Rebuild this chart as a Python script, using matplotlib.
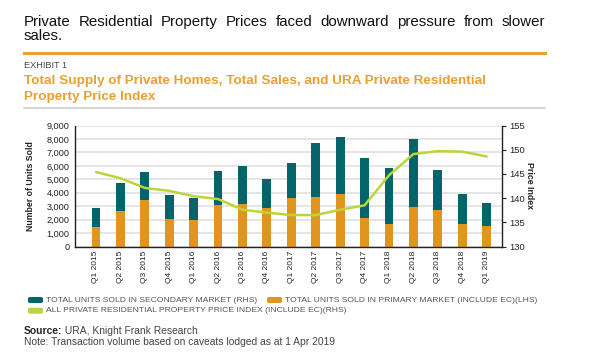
import matplotlib
matplotlib.use("Agg")
import matplotlib.pyplot as plt
from matplotlib.patches import FancyBboxPatch
from matplotlib.lines import Line2D
import numpy as np

plt.rcParams["font.family"] = ["Liberation Sans", "DejaVu Sans"]

quarters = ["Q1 2015", "Q2 2015", "Q3 2015", "Q4 2015", "Q1 2016", "Q2 2016",
            "Q3 2016", "Q4 2016", "Q1 2017", "Q2 2017", "Q3 2017", "Q4 2017",
            "Q1 2018", "Q2 2018", "Q3 2018", "Q4 2018", "Q1 2019"]
primary = [1450, 2640, 3490, 2040, 1970, 3070, 3170, 2870, 3620, 3690,
           3940, 2120, 1670, 2940, 2740, 1670, 1520]
secondary = [1450, 2120, 2020, 1800, 1650, 2520, 2790, 2170, 2560, 3990,
             4190, 4490, 4190, 5090, 2970, 2250, 1720]
price_index = [145.4, 144.1, 142.1, 141.5, 140.4, 139.8, 137.6, 137.0, 136.5,
               136.5, 137.6, 138.5, 144.7, 149.1, 149.7, 149.6, 148.6]

TEAL, ORANGE, LIME = "#03656a", "#e0961e", "#bcd43c"
HDR_ORANGE = "#e8a030"
W, H = 600, 360

fig = plt.figure(figsize=(6, 3.6), dpi=100)


def fx(px):
    return px / W


def fy(py):
    return 1 - py / H


def justified(text, x0, x1, y, **kw):
    # lay words out so the line fills x0..x1, like the justified source paragraph
    words = text.split()
    arts = [fig.text(0, fy(y), w, va="baseline", **kw) for w in words]
    r = fig.canvas.get_renderer()
    widths = [a.get_window_extent(r).width for a in arts]
    gap = (x1 - x0 - sum(widths)) / (len(words) - 1)
    pos = x0
    for a, w in zip(arts, widths):
        a.set_x(fx(pos))
        pos += w + gap


# header
justified("Private Residential Property Prices faced downward pressure from slower",
          24, 545, 26, fontsize=10.8, color="#111")
fig.text(fx(24), fy(40), "sales.", fontsize=10.8, color="#111", va="baseline")
fig.add_artist(Line2D([fx(24), fx(545)], [fy(53.3)] * 2, color=HDR_ORANGE, lw=2.2))
fig.text(fx(24), fy(65.7), "EXHIBIT 1", fontsize=6.6, color="#444", va="center")
fig.text(fx(24), fy(80.7), "Total Supply of Private Homes, Total Sales, and URA Private Residential",
         fontsize=9.7, color=HDR_ORANGE, weight="bold", va="center")
fig.text(fx(24), fy(97.3), "Property Price Index",
         fontsize=9.7, color=HDR_ORANGE, weight="bold", va="center")
fig.add_artist(Line2D([fx(24), fx(545)], [fy(108.3)] * 2, color="#cfcfcf", lw=1.2))

# chart
ax = fig.add_axes([fx(75), fy(246.5), (502 - 75) / W, (246.5 - 125.5) / H])
x = np.arange(len(quarters))
ax.bar(x, primary, width=0.36, color=ORANGE, zorder=2)
ax.bar(x, secondary, width=0.36, bottom=primary, color=TEAL, zorder=2)
ax.set_xlim(-0.86, 16.63)
ax.set_ylim(0, 9000)
ax.set_yticks(np.arange(0, 9001, 1000))
ax.set_yticklabels([f"{v:,}" for v in range(0, 9001, 1000)])
ax.yaxis.grid(True, color="#e3e3e3", lw=1.3, zorder=0)
ax.set_axisbelow(True)
ax.set_xticks(x)
ax.set_xticklabels(quarters, rotation=90)
ax.tick_params(axis="x", length=0, labelsize=6, pad=3, colors="#222")
ax.tick_params(axis="y", length=0, labelsize=6.6, pad=4, colors="#222")
for s in ("top", "right"):
    ax.spines[s].set_visible(False)
for s in ("left", "bottom"):
    ax.spines[s].set_color("#222")
    ax.spines[s].set_linewidth(1.0)
ax.set_ylabel("Number of Units Sold", fontsize=6.3, weight="bold", color="#222")
ax.yaxis.set_label_coords(-0.094, 0.5)

ax2 = ax.twinx()
ax2.plot(x, price_index, color=LIME, lw=1.8, solid_capstyle="round")
ax2.set_ylim(130, 155)
ax2.set_yticks(np.arange(130, 156, 5))
ax2.tick_params(axis="y", length=3, width=0.8, labelsize=6.8, pad=2, colors="#222")
for s in ("top", "left", "bottom"):
    ax2.spines[s].set_visible(False)
ax2.spines["right"].set_color("#222")
ax2.spines["right"].set_linewidth(1.0)
ax2.set_ylabel("Price Index", fontsize=6.3, weight="bold", color="#222", rotation=-90)
ax2.yaxis.set_label_coords(1.075, 0.5)

# legend (flowed like the source, not a grid)
legend_items = [
    (28, 300, TEAL, 46, "TOTAL UNITS SOLD IN SECONDARY MARKET (RHS)"),
    (267, 300, ORANGE, 285, "TOTAL UNITS SOLD IN PRIMARY MARKET (INCLUDE EC)(LHS)"),
    (28, 310.7, LIME, 46, "ALL PRIVATE RESIDENTIAL PROPERTY PRICE INDEX (INCLUDE EC)(RHS)"),
]
for px, py, col, tx, label in legend_items:
    fig.add_artist(FancyBboxPatch((fx(px), fy(py + 3)), 15 / W, 6 / H,
                                  boxstyle="round,pad=0,rounding_size=0.004",
                                  transform=fig.transFigure, color=col, lw=0))
    fig.text(fx(tx), fy(py), label, fontsize=6.1, color="#555", va="center")

# source / note
src = fig.text(fx(24), fy(330.7), "Source:", fontsize=7.4, weight="bold", color="#222", va="center")
ax.annotate(" URA, Knight Frank Research", xy=(1, 0.5), xycoords=src, va="center",
            fontsize=7.4, color="#444", annotation_clip=False)
fig.text(fx(24), fy(341.7), "Note: Transaction volume based on caveats lodged as at 1 Apr 2019",
         fontsize=7.4, color="#444", va="center")

fig.savefig("out.png", dpi=100, facecolor="white")
